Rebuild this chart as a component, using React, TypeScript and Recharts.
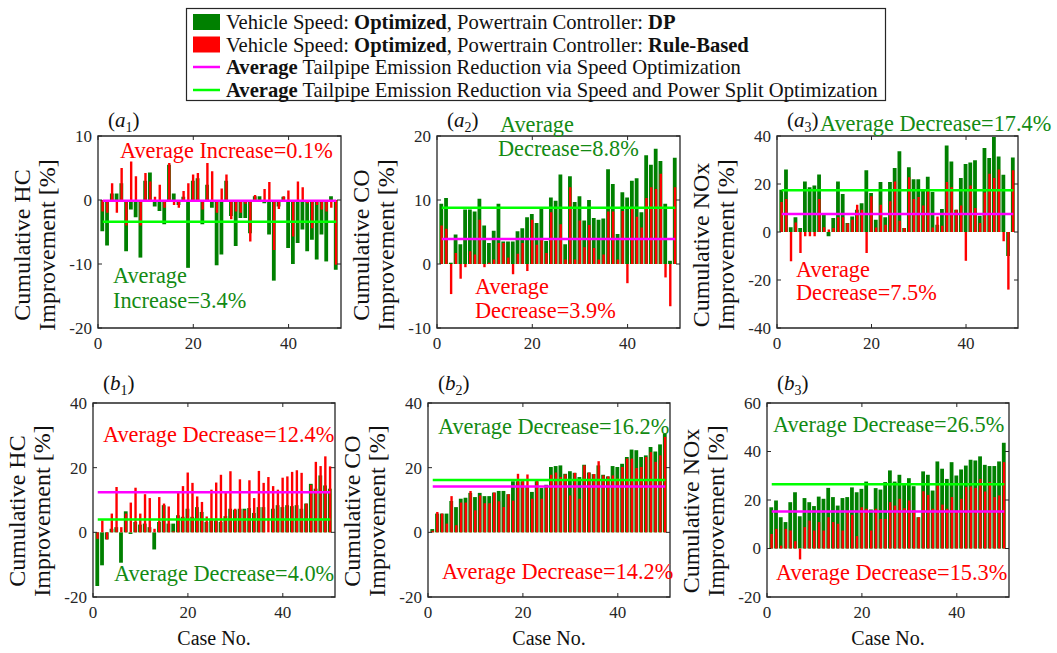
import React from "react";
import { ComposedChart, Bar, XAxis, YAxis, ReferenceLine, ReferenceArea } from "recharts";

const FONT = "'Liberation Serif', 'Times New Roman', serif";
const AXIS = "#262626";
const DP_GREEN = "#008000";
const RB_RED = "#ff0000";
const SPEED_LINE = "#ff00ff";
const SPLIT_LINE = "#00ff00";
const TEXT_GREEN = "#138a13";

// case numbers 1..50
const cases = Array.from({ length: 50 }, (_, i) => i + 1);

// HC, speed-optimized (a1): DP vs rule-based
const hcSpeedDp = [-4.9, -7.1, 1.0, 1.0, 2.6, -8.0, -1.5, -2.7, -9.0, 3.0, 4.3, -1.0, -1.7, -3.8, 5.5, 1.0, -0.8, 0.5, -10.6, 3.0, 3.4, -3.8, 2.4, -1.2, -10.2, -8.5, 3.0, -2.5, -7.2, -2.8, -2.8, -5.2, 0.6, 0.6, -0.5, -5.4, -12.6, -1.0, 0.5, -7.5, -10.0, -6.7, -4.6, -8.0, -6.2, -9.3, -5.4, -9.6, 0.6, -10.9];
const hcSpeedRb = [-1.8, -2.0, 2.6, -2.0, 5.0, -4.0, 6.0, 3.7, -4.0, 4.2, 2.9, 0.5, 2.4, -1.2, 5.8, -0.8, -1.2, 1.4, 2.6, 4.0, 4.2, -1.5, 5.8, 4.5, -2.0, 1.8, 4.0, -3.0, -1.8, -2.0, -0.6, -6.5, 0.8, -0.3, 1.7, 2.8, -7.8, -1.4, 0.6, 1.5, -5.7, 2.9, 2.0, -0.5, -4.4, -0.8, -1.5, -1.8, -1.2, -10.1];

// CO (a2)
const coSpeedDp = [9.4, 10.3, 0.2, 4.6, 3.1, 8.5, 8.5, 8.2, 10.2, 6.0, 3.3, 5.2, 9.4, 3.5, 3.5, 3.5, 5.1, 5.6, 7.3, 7.8, 6.4, 8.6, 3.6, 10.4, 9.9, 14.0, 3.1, 13.7, 9.7, 10.6, 6.8, 10.0, 7.2, 6.9, 7.1, 14.8, 12.5, 4.7, 11.2, 10.4, 13.0, 13.4, 8.1, 17.0, 15.5, 18.0, 16.1, 9.4, 0.5, 16.6];
const coSpeedRb = [6.0, 5.5, -4.7, 1.7, -2.3, -0.5, 2.0, 1.5, 6.9, -0.5, 0.2, 0.7, 3.3, 3.3, 1.0, -1.6, 1.6, 3.3, -1.1, 6.9, 3.0, 3.8, 1.7, 8.1, 4.0, 6.2, 0.7, 12.0, 0.7, 6.8, 2.6, 6.1, 2.5, 0.7, 1.5, 8.2, 8.2, 0.7, 8.3, -3.0, 8.6, 7.4, 5.7, 10.3, 12.0, 11.7, 14.1, -2.1, -6.6, 12.0];

// NOx (a3)
const noxSpeedDp = [17.6, 26.0, 2.0, 6.1, 1.7, 21.0, 18.6, 19.4, 24.0, 7.2, -1.8, 5.8, 21.0, 15.8, 3.7, 6.5, 9.3, 12.0, 25.7, 16.2, 5.1, 20.8, 6.1, 20.8, 26.7, 33.6, 1.7, 27.0, 22.0, 22.0, 17.2, 23.0, 16.7, 3.0, 9.6, 36.0, 29.4, 9.3, 22.5, 28.3, 29.0, 29.9, 6.8, 35.0, 30.8, 39.6, 31.5, 23.9, -10.0, 31.0];
const noxSpeedRb = [12.5, 13.8, -12.2, 4.0, -8.7, -1.8, -1.8, -1.8, 13.8, 2.0, 1.0, 1.7, 6.1, 6.1, 3.5, 5.1, 11.4, 9.3, -8.7, 14.9, 1.9, 11.4, 3.0, 12.8, 21.0, 4.7, 1.7, 22.8, 13.8, 14.6, 11.0, 17.0, 1.9, 6.5, 2.6, 20.8, 18.6, 9.3, 11.0, -12.0, 19.4, 10.0, 3.7, 16.5, 24.3, 22.5, 26.0, -3.9, -24.0, 25.7];

// HC, speed + power split (b1)
const hcSplitDp = [-16.6, -10.2, -2.2, 1.1, 1.6, -9.4, 6.5, -0.5, 3.2, 2.4, 2.7, 1.6, -5.3, 3.2, 8.4, 2.7, 2.7, 5.3, 4.8, 7.3, 4.8, 7.8, 6.3, 3.2, 4.2, 3.7, 3.2, 5.0, 7.3, 7.0, 7.3, 7.3, 7.5, 6.0, 7.8, 7.8, 0.0, 7.3, 8.4, 7.8, 8.4, 8.1, 8.4, 7.3, 8.9, 15.0, 13.5, 17.6, 14.5, 13.5];
const hcSplitRb = [-2.0, 3.7, -2.2, 5.8, 14.0, 1.6, 5.8, 9.2, 13.8, 5.8, 11.8, 10.6, 1.1, 10.9, 8.9, 8.0, 0.3, 12.3, 14.3, 18.5, 15.3, 11.1, 9.4, 4.9, 13.2, 15.4, 17.8, 12.5, 18.9, 7.3, 16.4, 6.8, 16.1, 10.6, 19.0, 15.3, 17.1, 14.3, 13.2, 16.9, 17.3, 18.7, 19.2, 18.4, 8.9, 14.7, 21.8, 20.5, 23.5, 20.4];

// CO (b2)
const coSplitDp = [1.0, 5.8, 5.8, 5.8, 9.7, 7.8, 10.4, 10.7, 12.2, 10.9, 12.2, 11.2, 11.2, 12.3, 12.8, 12.8, 11.8, 15.8, 15.8, 15.8, 14.0, 12.5, 15.8, 13.7, 14.7, 20.2, 20.5, 20.7, 18.1, 18.9, 18.4, 17.1, 20.9, 18.5, 18.0, 20.7, 17.8, 17.3, 20.5, 20.2, 21.2, 23.3, 25.6, 25.4, 23.3, 23.8, 26.4, 25.0, 27.2, 30.5];
const coSplitRb = [0.5, 6.3, 5.8, 2.7, 11.2, 2.2, 9.2, 9.2, 12.8, 6.8, 11.4, 9.0, 9.0, 12.3, 9.6, 7.8, 11.8, 9.8, 18.1, 15.8, 17.9, 10.4, 16.0, 10.4, 13.7, 17.8, 18.5, 17.1, 17.9, 11.4, 18.4, 10.4, 20.7, 18.5, 18.0, 22.0, 17.6, 17.3, 17.6, 16.6, 20.2, 22.8, 22.8, 19.9, 20.2, 23.3, 24.8, 21.8, 23.8, 29.5];

// NOx (b3)
const noxSplitDp = [17.0, 19.8, 12.9, 10.9, 19.1, 23.2, 13.3, 20.8, 19.1, 17.5, 21.4, 20.5, 25.0, 21.2, 17.7, 20.8, 21.2, 25.2, 23.2, 24.6, 27.6, 16.1, 24.9, 24.3, 27.4, 32.2, 27.6, 30.4, 26.3, 29.0, 25.7, 12.9, 31.8, 30.4, 23.9, 35.9, 32.9, 28.7, 35.6, 30.1, 32.6, 34.2, 36.6, 36.3, 38.0, 34.5, 34.0, 34.0, 35.9, 43.6];
const noxSplitRb = [6.0, 8.1, 1.2, 8.1, 7.4, 3.0, -4.5, 8.8, 11.5, 7.4, 10.9, 7.4, 12.9, 10.9, 10.2, 7.4, 15.0, 13.9, 5.1, 17.0, 16.4, 7.4, 16.4, 12.2, 12.2, 19.1, 17.7, 20.5, 16.6, 19.8, 15.9, 12.9, 23.6, 22.1, 16.4, 26.0, 18.1, 16.4, 21.2, 15.7, 20.5, 25.3, 25.6, 25.0, 28.7, 23.5, 27.4, 21.2, 21.9, 35.6];

// averages shown as horizontal lines
const avgDp = [-3.4, 8.8, 17.4, 4.0, 16.2, 26.5];
const avgRb = [-0.1, 3.9, 7.5, 12.4, 14.2, 15.3];

const yDomains = [[-20, 10], [-10, 20], [-40, 40], [-20, 40], [-20, 40], [-20, 60]];
const yTicks = [[-20, -10, 0, 10], [-10, 0, 10, 20], [-40, -20, 0, 20, 40], [-20, 0, 20, 40], [-20, 0, 20, 40], [-20, 0, 20, 40, 60]];
const xTicks = [0, 20, 40];
const pollutants = ["HC", "CO", "NOx", "HC", "CO", "NOx"];
const panelTags = [["a", "1"], ["a", "2"], ["a", "3"], ["b", "1"], ["b", "2"], ["b", "3"]];

const series = [
  [hcSpeedDp, hcSpeedRb],
  [coSpeedDp, coSpeedRb],
  [noxSpeedDp, noxSpeedRb],
  [hcSplitDp, hcSplitRb],
  [coSplitDp, coSplitRb],
  [noxSplitDp, noxSplitRb],
];

// plot boxes in page pixels
const boxes = [
  { x: 98, y: 136, w: 243, h: 192 },
  { x: 437, y: 136, w: 243, h: 192 },
  { x: 777, y: 136, w: 241, h: 192 },
  { x: 93, y: 403, w: 242, h: 194 },
  { x: 428, y: 403, w: 242, h: 194 },
  { x: 767, y: 403, w: 242, h: 194 },
];

// [x, y, colour, text]
const notes: [number, number, string, string][][] = [
  [[120, 150, RB_RED, "Average Increase=0.1%"], [113, 275, TEXT_GREEN, "Average"], [113, 300, TEXT_GREEN, "Increase=3.4%"]],
  [[500, 124, TEXT_GREEN, "Average"], [498, 148, TEXT_GREEN, "Decrease=8.8%"], [475, 286, RB_RED, "Average"], [475, 310, RB_RED, "Decrease=3.9%"]],
  [[820, 123, TEXT_GREEN, "Average Decrease=17.4%"], [796, 269, RB_RED, "Average"], [796, 292, RB_RED, "Decrease=7.5%"]],
  [[103, 434, RB_RED, "Average Decrease=12.4%"], [114, 573, TEXT_GREEN, "Average Decrease=4.0%"]],
  [[438, 426, TEXT_GREEN, "Average Decrease=16.2%"], [442, 571, RB_RED, "Average Decrease=14.2%"]],
  [[773, 424, TEXT_GREEN, "Average Decrease=26.5%"], [776, 572, RB_RED, "Average Decrease=15.3%"]],
];

const TICK_GAP_X = 9;
const TICK_GAP_Y = 6;
const TOP_PAD = 12;

function XTick(props: any) {
  const { x, y, payload, plotH } = props;
  const y0 = y - TICK_GAP_X;
  return (
    <g>
      <line x1={x} x2={x} y1={y0} y2={y0 - 4} stroke={AXIS} />
      <line x1={x} x2={x} y1={y0 - plotH} y2={y0 - plotH + 4} stroke={AXIS} />
      <text x={x} y={y} dy="0.71em" textAnchor="middle" fontSize={17} fontFamily={FONT} fill={AXIS}>
        {payload.value}
      </text>
    </g>
  );
}

function YTick(props: any) {
  const { x, y, payload, plotW } = props;
  const x0 = x + TICK_GAP_Y;
  return (
    <g>
      <line x1={x0} x2={x0 + 4} y1={y} y2={y} stroke={AXIS} />
      <line x1={x0 + plotW} x2={x0 + plotW - 4} y1={y} y2={y} stroke={AXIS} />
      <text x={x} y={y} dy="0.35em" textAnchor="end" fontSize={17} fontFamily={FONT} fill={AXIS}>
        {payload.value}
      </text>
    </g>
  );
}

function Panel({ idx }: { idx: number }) {
  const b = boxes[idx];
  const [dp, rb] = series[idx];
  const data = cases.map((c, i) => ({ c, dp: dp[i], rb: rb[i] }));
  const dom = yDomains[idx];
  return (
    <div style={{ position: "absolute", left: b.x - 40, top: b.y - TOP_PAD }}>
      <ComposedChart width={b.w + 45} height={b.h + 30 + TOP_PAD} data={data} margin={{ top: TOP_PAD, right: 5, left: 0, bottom: 0 }}>
        <XAxis
          xAxisId="g"
          dataKey="c"
          type="number"
          domain={[0, 51]}
          ticks={xTicks}
          interval={0}
          axisLine={false}
          tickLine={false}
          tickSize={0}
          tickMargin={TICK_GAP_X}
          height={30}
          tick={<XTick plotH={b.h} />}
        />
        <XAxis xAxisId="r" dataKey="c" type="number" domain={[0, 51]} hide />
        <YAxis
          domain={dom}
          ticks={yTicks[idx]}
          interval={0}
          allowDataOverflow
          axisLine={false}
          tickLine={false}
          tickSize={0}
          tickMargin={TICK_GAP_Y}
          width={40}
          tick={<YTick plotW={b.w} />}
        />
        <Bar xAxisId="g" dataKey="dp" fill={DP_GREEN} barSize={3.8} isAnimationActive={false} />
        <Bar xAxisId="r" dataKey="rb" fill={RB_RED} barSize={2.4} isAnimationActive={false} />
        <ReferenceLine
          xAxisId="g"
          segment={[{ x: 1, y: avgDp[idx] }, { x: 50, y: avgDp[idx] }]}
          stroke={SPLIT_LINE}
          strokeWidth={2.5}
        />
        <ReferenceLine
          xAxisId="g"
          segment={[{ x: 1, y: avgRb[idx] }, { x: 50, y: avgRb[idx] }]}
          stroke={SPEED_LINE}
          strokeWidth={2.5}
        />
        <ReferenceArea xAxisId="g" x1={0} x2={51} y1={dom[0]} y2={dom[1]} fill="none" stroke={AXIS} strokeWidth={1.3} />
      </ComposedChart>
    </div>
  );
}

function Overlay() {
  const rows = [
    { kind: "patch", color: DP_GREEN, y: 22, parts: [["Vehicle Speed: ", 0], ["Optimized", 1], [", Powertrain Controller: ", 0], ["DP", 1]] },
    { kind: "patch", color: RB_RED, y: 44.5, parts: [["Vehicle Speed: ", 0], ["Optimized", 1], [", Powertrain Controller: ", 0], ["Rule-Based", 1]] },
    { kind: "line", color: SPEED_LINE, y: 67, parts: [["Average", 1], [" Tailpipe Emission Reduction via Speed Optimization", 0]] },
    { kind: "line", color: SPLIT_LINE, y: 90, parts: [["Average", 1], [" Tailpipe Emission Reduction via Speed and Power Split Optimization", 0]] },
  ];
  return (
    <svg width={1057} height={653} style={{ position: "absolute", left: 0, top: 0, pointerEvents: "none" }} fontFamily={FONT}>
      <rect x={186.5} y={8.5} width={699} height={92} fill="#fff" stroke={AXIS} strokeWidth={1.2} />
      {rows.map((r, i) => (
        <g key={i}>
          {r.kind === "patch" ? (
            <rect x={193} y={r.y - 8} width={27} height={16} fill={r.color} />
          ) : (
            <line x1={193} x2={220} y1={r.y} y2={r.y} stroke={r.color} strokeWidth={2.5} />
          )}
          <text x={226} y={r.y} dy="0.35em" fontSize={20.6} fill="#111">
            {r.parts.map((p, j) => (
              <tspan key={j} fontWeight={p[1] ? "bold" : "normal"}>{p[0] as string}</tspan>
            ))}
          </text>
        </g>
      ))}
      {boxes.map((b, i) => {
        const row = i < 3 ? 0 : 1;
        const cy = row === 0 ? 245 : 511;
        const lx = b.x - 76;
        return (
          <g key={i}>
            <text transform={`rotate(-90 ${lx} ${cy})`} x={lx} y={cy} dy="0.35em" textAnchor="middle" fontSize={24} fill="#111">
              {"Cumulative " + pollutants[i]}
            </text>
            <text transform={`rotate(-90 ${lx + 25} ${cy})`} x={lx + 25} y={cy} dy="0.35em" textAnchor="middle" fontSize={24} fill="#111">
              Improvement [%]
            </text>
            <text x={b.x + 10} y={row === 0 ? 120 : 383} dy="0.35em" fontSize={21} fill="#111">
              (<tspan fontStyle="italic">{panelTags[i][0]}</tspan>
              <tspan fontSize={14} dy={5}>{panelTags[i][1]}</tspan>
              <tspan dy={-5}>)</tspan>
            </text>
            {row === 1 && (
              <text x={b.x + b.w / 2} y={638} dy="0.35em" textAnchor="middle" fontSize={20} fill="#111">
                Case No.
              </text>
            )}
            {notes[i].map((n, k) => (
              <text key={k} x={n[0]} y={n[1]} dy="0.35em" fontSize={22.3} fill={n[2]}>
                {n[3]}
              </text>
            ))}
          </g>
        );
      })}
    </svg>
  );
}

export default function App() {
  return (
    <div style={{ position: "absolute", left: 0, top: 0, width: 1057, height: 653, background: "#fff" }}>
      {boxes.map((_, i) => (
        <Panel key={i} idx={i} />
      ))}
      <Overlay />
    </div>
  );
}
